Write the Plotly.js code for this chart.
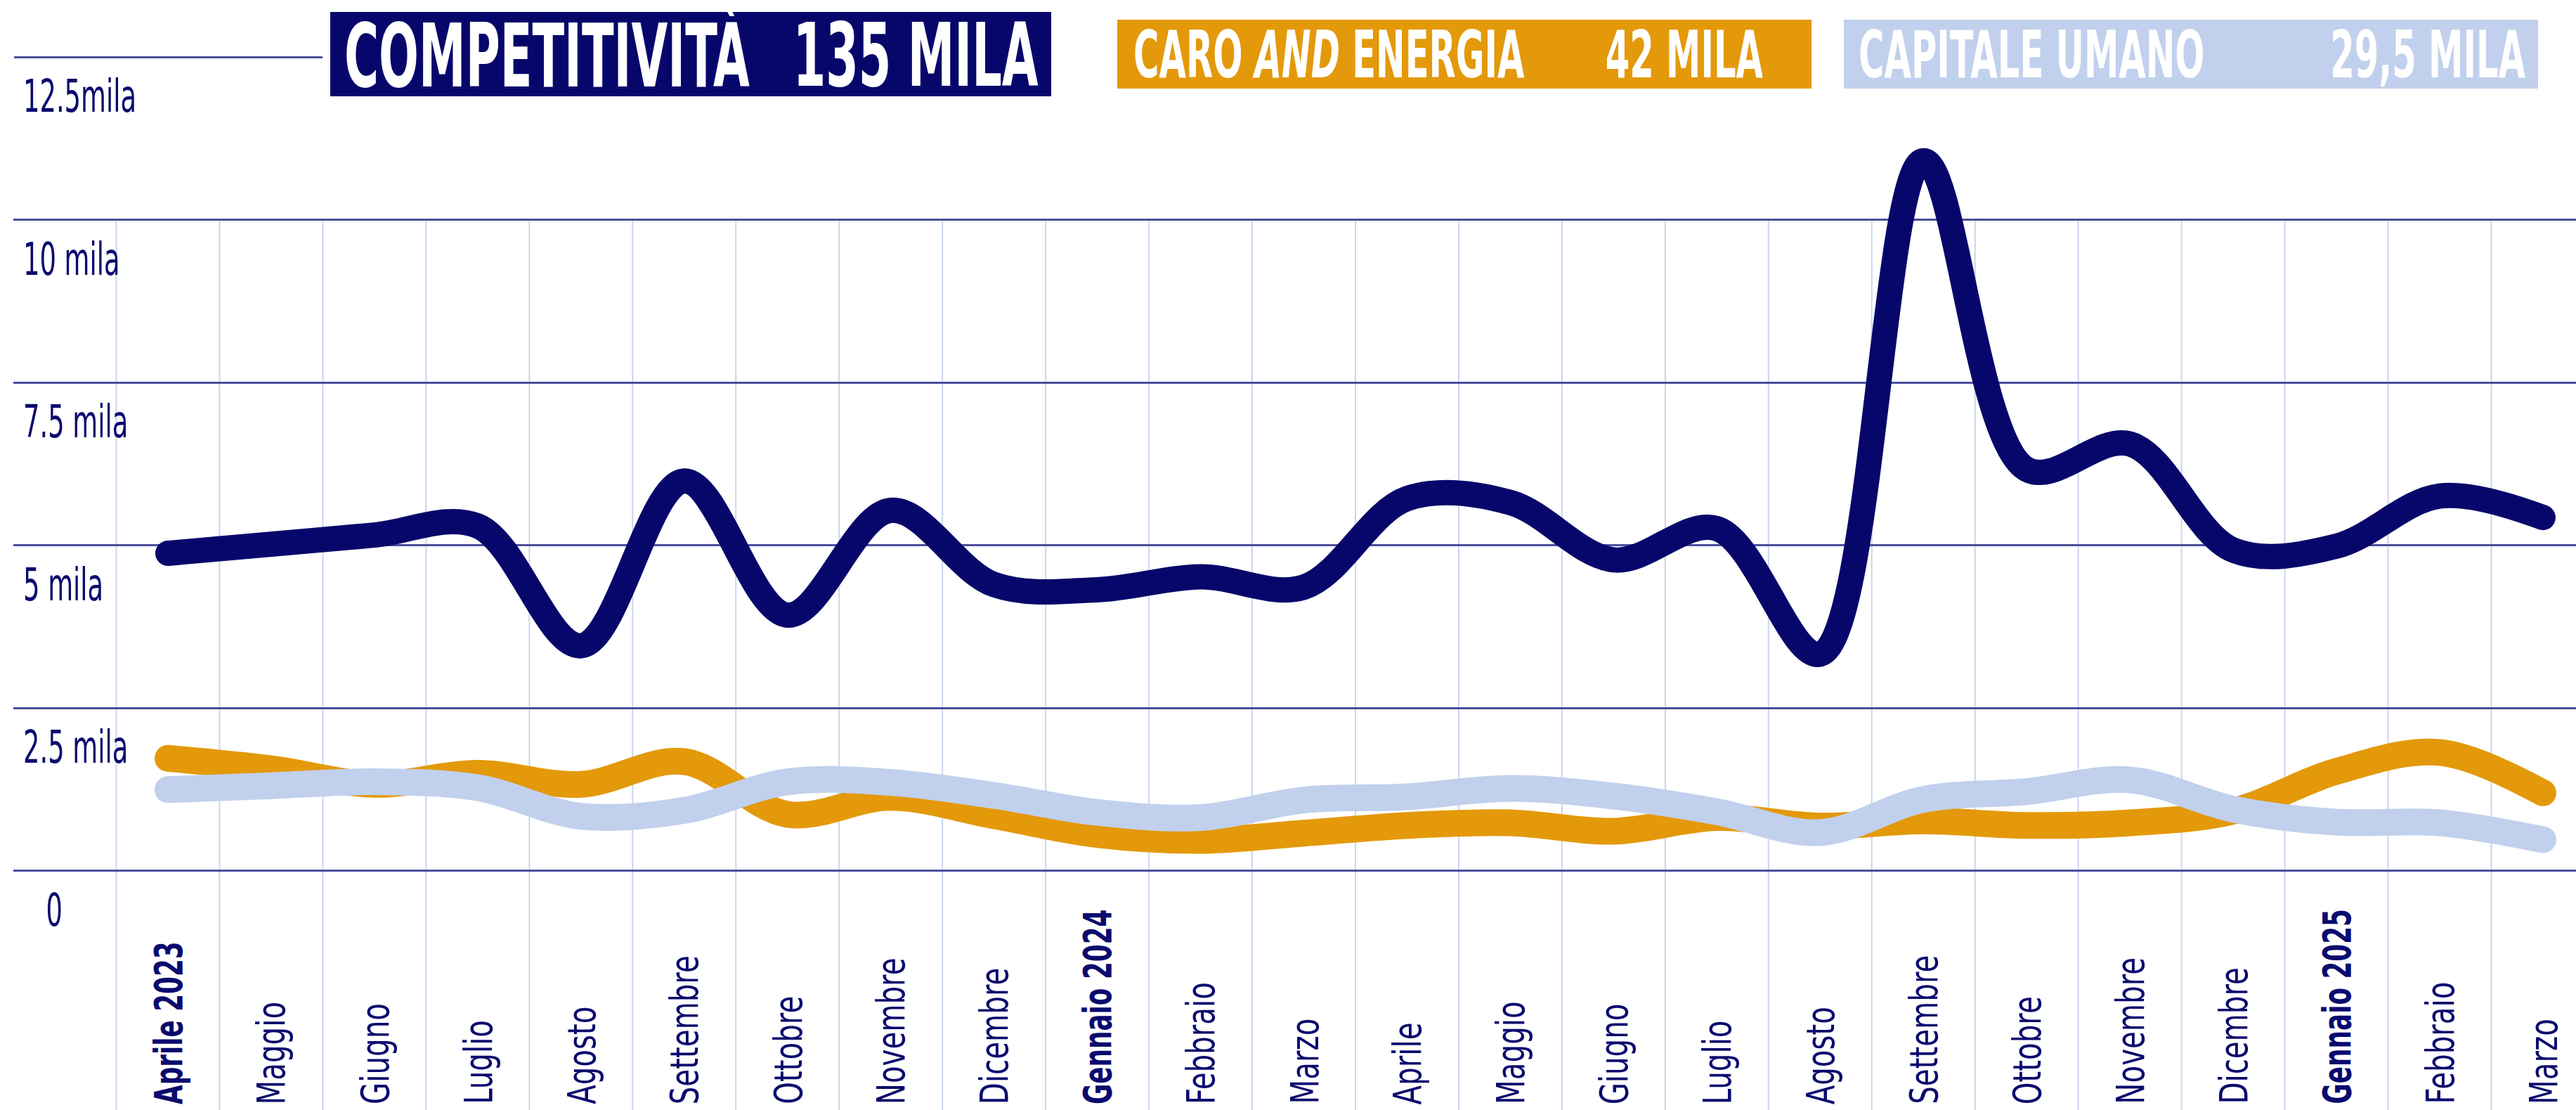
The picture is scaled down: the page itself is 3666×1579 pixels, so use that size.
<!DOCTYPE html>
<html>
<head>
<meta charset="utf-8">
<script src="https://cdn.plot.ly/plotly-3.0.1.min.js"></script>
<style>
  html, body { margin: 0; padding: 0; background: #ffffff; }
  #chart { width: 3666px; height: 1579px; }
</style>
</head>
<body>
<div id="chart"></div>
<script>
// ---------------- DATA ----------------
const categories = ["Aprile 2023", "Maggio", "Giugno", "Luglio", "Agosto", "Settembre",
  "Ottobre", "Novembre", "Dicembre", "Gennaio 2024", "Febbraio", "Marzo",
  "Aprile", "Maggio", "Giugno", "Luglio", "Agosto", "Settembre",
  "Ottobre", "Novembre", "Dicembre", "Gennaio 2025", "Febbraio", "Marzo"];

const competitivita = [4880, 5020, 5160, 5300, 3460, 5990, 3930, 5540, 4400, 4320, 4520, 4360,
  5720, 5660, 4780, 5260, 3330, 10910, 6170, 6560, 4930, 4990, 5760, 5430];

const caroEnergia = [1730, 1570, 1330, 1500, 1330, 1680, 870, 1130, 850, 560, 470, 580,
  700, 740, 610, 820, 690, 770, 700, 740, 920, 1530, 1820, 1200];

const capitaleUmano = [1250, 1310, 1370, 1280, 840, 930, 1370, 1360, 1160, 900, 820, 1090,
  1140, 1270, 1150, 910, 590, 1100, 1220, 1400, 950, 750, 740, 480];

const seriesNames = ["COMPETITIVITÀ", "CARO <i>AND</i> ENERGIA", "CAPITALE UMANO"];
const seriesTotals = ["135 MILA", "42 MILA", "29,5 MILA"];

const yTickValues = [0, 2500, 5000, 7500, 10000, 12500];
const yTickLabels = ["0", "2.5 mila", "5 mila", "7.5 mila", "10 mila", "12.5mila"];

// ---------------- STYLE / LAYOUT ----------------
const W = 3666, H = 1579, ML = 19;
const NAVY = "#07076b", ORANGE = "#e3990a", LIGHT = "#c1d0ec";
const TEXT = "#0a0a6e", GRID_H = "#4a4f9c", GRID_V = "#c9d5ee";
const FONT = "'DejaVu Sans Condensed', 'Liberation Sans Narrow', 'Roboto', sans-serif";
const xRange = [-1.497, 23.32];
const yRange = [-3672, 13380];

const px = x => (x - ML) / (W - ML);
const py = y => 1 - y / H;
const idx = categories.map((_, i) => i);

function lineTrace(values, color, width) {
  return {
    x: idx, y: values, type: "scatter", mode: "lines+markers",
    line: { color: color, width: width, shape: "spline", smoothing: 1 },
    marker: { color: color, opacity: 1,
      size: values.map((v, i) => (i === 0 || i === values.length - 1) ? width : 0), line: { width: 0 } },
    hoverinfo: "skip", showlegend: false
  };
}

const traces = [
  lineTrace(caroEnergia, ORANGE, 38),
  lineTrace(capitaleUmano, LIGHT, 38),
  lineTrace(competitivita, NAVY, 36)
];

const shapes = [];
// vertical light gridlines between months
categories.forEach((_, i) => {
  shapes.push({ type: "line", xref: "x", yref: "y", x0: i - 0.5, x1: i - 0.5, y0: yRange[0], y1: 10000,
    line: { color: GRID_V, width: 2 }, layer: "below" });
});
// short top gridline (12.5 mila)
shapes.push({ type: "line", xref: "paper", yref: "y", x0: px(20), x1: px(459), y0: 12500, y1: 12500,
  line: { color: GRID_H, width: 3 }, layer: "below" });

// header boxes
const boxes = [
  { x0: 470, x1: 1496, y0: 17, y1: 137, color: NAVY, size: 124, left: 488, right: 1480, cy: 79 },
  { x0: 1590, x1: 2578, y0: 28, y1: 126, color: ORANGE, size: 92, left: 1611, right: 2511, cy: 78 },
  { x0: 2624, x1: 3612, y0: 28, y1: 126, color: LIGHT, size: 92, left: 2643, right: 3596, cy: 78 }
];
boxes.forEach(b => {
  shapes.push({ type: "rect", xref: "paper", yref: "paper", x0: px(b.x0), x1: px(b.x1), y0: py(b.y1), y1: py(b.y0),
    fillcolor: b.color, line: { width: 0 }, layer: "above" });
});

// annotations + horizontal condensation factor for each (the reference uses a condensed typeface)
const annotations = [];
const condense = [];
boxes.forEach((b, k) => {
  annotations.push({ xref: "paper", yref: "paper", x: px(b.left), y: py(b.cy), xanchor: "left", yanchor: "middle",
    text: seriesNames[k], showarrow: false, font: { family: FONT, size: b.size, color: "#ffffff", weight: 700 } });
  condense.push({ k: 0.6, origin: "left center" });
  annotations.push({ xref: "paper", yref: "paper", x: px(b.right), y: py(b.cy), xanchor: "right", yanchor: "middle",
    text: seriesTotals[k], showarrow: false, font: { family: FONT, size: b.size, color: "#ffffff", weight: 700 } });
  condense.push({ k: 0.6, origin: "right center" });
});

// y labels (below their gridlines)
yTickValues.forEach((v, k) => {
  const isZero = yTickLabels[k] === "0";
  annotations.push({ xref: "paper", yref: "y", x: isZero ? px(77) : px(31), y: v, yshift: -56,
    xanchor: isZero ? "center" : "left", yanchor: "middle", text: yTickLabels[k], showarrow: false,
    font: { family: FONT, size: 64, color: TEXT } });
  condense.push({ k: 0.64, origin: isZero ? "center" : "left center" });
});

// x labels (rotated, bottom aligned)
categories.forEach((c, i) => {
  const bold = /\d/.test(c);
  annotations.push({ xref: "x", yref: "paper", x: i, y: 0, yshift: 6, xanchor: "center", yanchor: "bottom",
    textangle: -90, text: c, showarrow: false,
    font: { family: FONT, size: 56, color: TEXT, weight: bold ? 700 : 400 } });
  condense.push({ k: bold ? 0.71 : 0.8, origin: "left center" });
});

const layout = {
  width: W, height: H,
  margin: { l: ML, r: 0, t: 0, b: 0, pad: 0 },
  paper_bgcolor: "#ffffff", plot_bgcolor: "#ffffff",
  showlegend: false,
  xaxis: { range: xRange, showgrid: false, zeroline: false, showticklabels: false, showline: false, ticks: "", fixedrange: true },
  yaxis: { range: yRange, tickmode: "array", tickvals: yTickValues.slice(0, 5), showticklabels: false,
    showgrid: true, gridcolor: GRID_H, gridwidth: 3, zeroline: false, showline: false, ticks: "", fixedrange: true },
  shapes: shapes,
  annotations: annotations
};

Plotly.newPlot("chart", traces, layout, { staticPlot: true, displayModeBar: false }).then(gd => {
  gd.querySelectorAll("g.annotation").forEach(g => {
    const i = +g.getAttribute("data-index");
    const c = condense[i];
    const t = g.querySelector("text.annotation-text");
    if (!c || !t) return;
    t.style.transformBox = "fill-box";
    t.style.transformOrigin = c.origin;
    t.style.transform = "scaleX(" + c.k + ")";
  });
});
</script>
</body>
</html>
